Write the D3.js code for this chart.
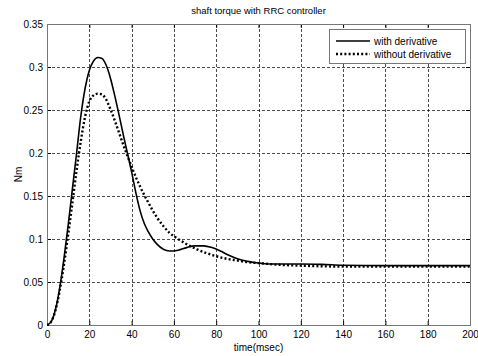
<!DOCTYPE html>
<html><head><meta charset="utf-8">
<script src="https://cdn.jsdelivr.net/npm/d3@7"></script>
<style>body{margin:0;background:#fff}svg{display:block}text{font-family:"Liberation Sans",Arial,sans-serif;fill:#000}</style>
</head><body><svg id="c" width="478" height="356"></svg>
<script>
const xTicks = [0,20,40,60,80,100,120,140,160,180,200];
const yTicks = [0,0.05,0.1,0.15,0.2,0.25,0.3,0.35];
const yTickLabels = ["0","0.05","0.1","0.15","0.2","0.25","0.3","0.35"];
const seriesNames = ["with derivative","without derivative"];
const withT = [0,2,4,6,8,10,12,14,16,18,20,22,24,26,28,30,32,34,36,38,40,42,44,46,48,50,52,55,58,62,66,70,74,78,82,86,90,95,100,105,110,120,130,140,160,200];
const withV = [0,0.004,0.018,0.043,0.077,0.116,0.158,0.2,0.243,0.275,0.296,0.307,0.311,0.31,0.302,0.287,0.267,0.245,0.222,0.2,0.178,0.154,0.133,0.118,0.108,0.1,0.094,0.088,0.086,0.087,0.09,0.092,0.092,0.09,0.086,0.081,0.077,0.074,0.072,0.071,0.071,0.071,0.0705,0.0695,0.069,0.069];
const withoutT = [0,2,4,6,8,10,12,14,16,18,20,22,24,26,28,30,32,34,36,38,40,42,44,46,48,50,52,55,58,62,66,70,75,80,85,90,95,100,110,120,140,160,200];
const withoutV = [0,0.004,0.017,0.04,0.07,0.105,0.142,0.18,0.214,0.242,0.26,0.267,0.269,0.268,0.262,0.251,0.238,0.224,0.21,0.197,0.184,0.172,0.161,0.151,0.142,0.133,0.125,0.115,0.107,0.1,0.094,0.089,0.084,0.08,0.077,0.075,0.073,0.072,0.07,0.069,0.068,0.068,0.068];

const svg = d3.select("#c");
const L=47,R=470,T=24,B=325;
const x = d3.scaleLinear().domain([0,200]).range([L,R]);
const y = d3.scaleLinear().domain([0,0.35]).range([B,T]);

// grid
const g = svg.append("g");
g.selectAll(".gx").data(xTicks.slice(1,-1)).enter().append("line")
 .attr("x1",d=>Math.round(x(d))+0.5).attr("x2",d=>Math.round(x(d))+0.5).attr("y1",T).attr("y2",B)
 .attr("stroke","#000").attr("stroke-width",0.7).attr("stroke-dasharray","3,2");
g.selectAll(".gy").data(yTicks.slice(1,-1)).enter().append("line")
 .attr("y1",d=>Math.round(y(d))+0.5).attr("y2",d=>Math.round(y(d))+0.5).attr("x1",L).attr("x2",R)
 .attr("stroke","#000").attr("stroke-width",0.7).attr("stroke-dasharray","3,2");

// axes
const xa = svg.append("g").attr("transform",`translate(0,${B})`)
 .call(d3.axisBottom(x).tickValues(xTicks).tickSize(-4).tickPadding(6).tickFormat(d3.format("d")));
const xt = svg.append("g").attr("transform",`translate(0,${T})`)
 .call(d3.axisTop(x).tickValues(xTicks).tickSize(-4).tickFormat(""));
const ya = svg.append("g").attr("transform",`translate(${L},0)`)
 .call(d3.axisLeft(y).tickValues(yTicks).tickSize(-4).tickPadding(4).tickFormat((d,i)=>yTickLabels[i]));
const yr = svg.append("g").attr("transform",`translate(${R},0)`)
 .call(d3.axisRight(y).tickValues(yTicks).tickSize(-4).tickFormat(""));
[xa,xt,ya,yr].forEach(a=>{a.select(".domain").remove();a.selectAll("line").attr("stroke","#000");
 a.selectAll("text").attr("font-size",10).attr("font-family","Liberation Sans, Arial, sans-serif");});
svg.append("rect").attr("x",L+0.5).attr("y",T+0.5).attr("width",R-L).attr("height",B-T)
 .attr("fill","none").attr("stroke","#777").attr("stroke-width",1);

const line = d3.line().curve(d3.curveMonotoneX).x(d=>x(d[0])).y(d=>y(d[1]));
const clip = svg.append("clipPath").attr("id","cp").append("rect").attr("x",L).attr("y",T).attr("width",R-L).attr("height",B-T+2);
svg.append("path").datum(withT.map((t,i)=>[t,withV[i]])).attr("d",line)
 .attr("fill","none").attr("stroke","#000").attr("stroke-width",1.6).attr("clip-path","url(#cp)");
svg.append("path").datum(withoutT.map((t,i)=>[t,withoutV[i]])).attr("d",line)
 .attr("fill","none").attr("stroke","#000").attr("stroke-width",2.4).attr("stroke-dasharray","2,2.2").attr("clip-path","url(#cp)");

// legend
const lg = svg.append("g");
lg.append("rect").attr("x",329.5).attr("y",29.5).attr("width",136).attr("height",34)
 .attr("fill","#fff").attr("stroke","#777");
lg.append("line").attr("x1",336).attr("x2",370).attr("y1",41).attr("y2",41).attr("stroke","#000").attr("stroke-width",1.6);
lg.append("line").attr("x1",336).attr("x2",370).attr("y1",54).attr("y2",54).attr("stroke","#000").attr("stroke-width",2.4).attr("stroke-dasharray","2,2.2");
lg.append("text").attr("x",374).attr("y",45).attr("font-size",10).text(seriesNames[0]);
lg.append("text").attr("x",374).attr("y",58).attr("font-size",10).text(seriesNames[1]);

svg.append("text").attr("x",(L+R)/2).attr("y",14).attr("text-anchor","middle").attr("font-size",9.5).text("shaft torque with RRC controller");
svg.append("text").attr("x",(L+R)/2).attr("y",351).attr("text-anchor","middle").attr("font-size",10).text("time(msec)");
svg.append("text").attr("transform",`translate(22,${(T+B)/2}) rotate(-90)`).attr("text-anchor","middle").attr("font-size",10).text("Nm");
</script></body></html>
